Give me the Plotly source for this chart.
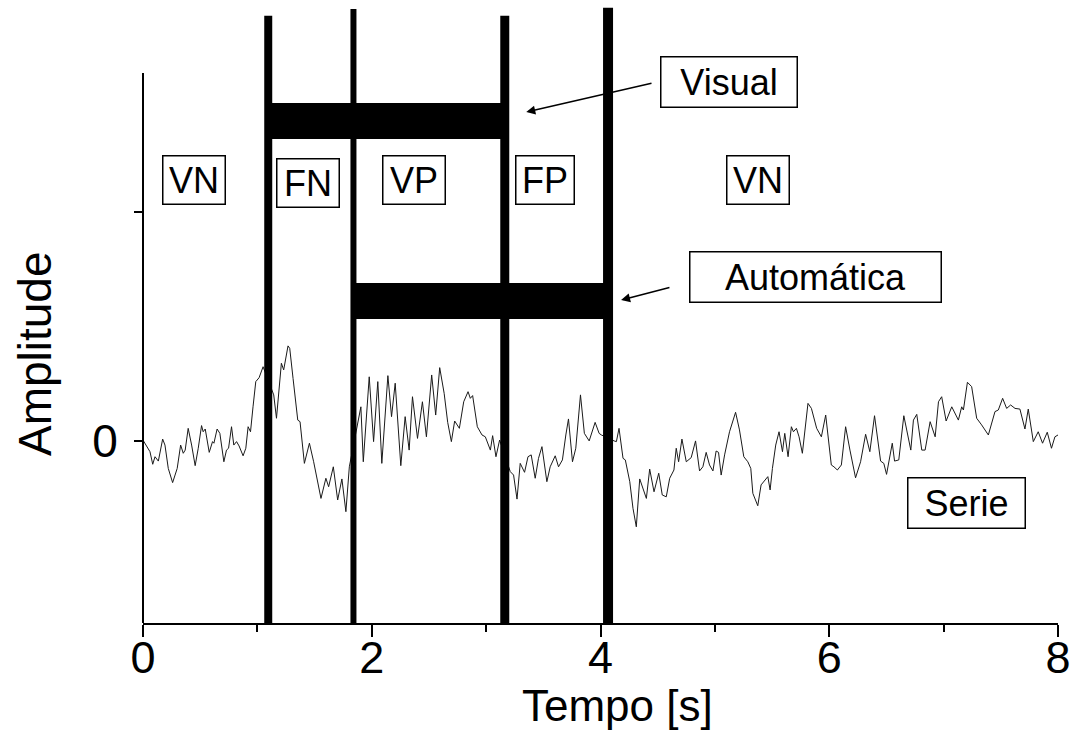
import plotly.graph_objects as go

# ---- data -------------------------------------------------------------
tempo = [0.003, 0.038, 0.061, 0.085, 0.105, 0.134, 0.172, 0.192, 0.221, 0.259,
         0.299, 0.329, 0.352, 0.369, 0.395, 0.425, 0.456, 0.483, 0.512, 0.526,
         0.544, 0.579, 0.608, 0.620, 0.648, 0.672, 0.707, 0.730, 0.748, 0.774,
         0.794, 0.818, 0.840, 0.875, 0.899, 0.919, 0.940, 0.962, 0.986, 1.015,
         1.050, 1.143, 1.167, 1.210, 1.230, 1.268, 1.283, 1.312, 1.353, 1.373,
         1.411, 1.455, 1.492, 1.556, 1.599, 1.623, 1.664, 1.702, 1.739, 1.774,
         1.804, 1.905, 1.926, 1.978, 2.016, 2.053, 2.088, 2.141, 2.173, 2.205,
         2.254, 2.292, 2.327, 2.356, 2.400, 2.443, 2.478, 2.524, 2.559, 2.594,
         2.633, 2.664, 2.696, 2.725, 2.766, 2.804, 2.842, 2.862, 2.882, 2.923,
         2.964, 2.993, 3.037, 3.057, 3.086, 3.118, 3.211, 3.240, 3.270, 3.298,
         3.336, 3.366, 3.394, 3.429, 3.458, 3.488, 3.531, 3.560, 3.604, 3.633,
         3.667, 3.697, 3.720, 3.755, 3.784, 3.825, 3.859, 3.901, 3.953, 3.988,
         4.008, 4.119, 4.139, 4.162, 4.197, 4.217, 4.256, 4.284, 4.313, 4.343,
         4.372, 4.401, 4.430, 4.468, 4.509, 4.540, 4.575, 4.605, 4.642, 4.662,
         4.683, 4.712, 4.750, 4.793, 4.831, 4.866, 4.895, 4.924, 4.953, 4.983,
         5.011, 5.032, 5.055, 5.085, 5.128, 5.181, 5.215, 5.253, 5.288, 5.314,
         5.332, 5.375, 5.404, 5.434, 5.463, 5.483, 5.503, 5.532, 5.561, 5.591,
         5.611, 5.640, 5.669, 5.687, 5.713, 5.736, 5.765, 5.814, 5.844, 5.890,
         5.931, 5.969, 5.989, 6.018, 6.041, 6.071, 6.106, 6.143, 6.181, 6.230,
         6.274, 6.318, 6.355, 6.396, 6.449, 6.477, 6.501, 6.551, 6.571, 6.608,
         6.652, 6.678, 6.713, 6.736, 6.765, 6.809, 6.838, 6.882, 6.926, 6.955,
         6.983, 7.022, 7.071, 7.129, 7.158, 7.173, 7.208, 7.245, 7.289, 7.332,
         7.391, 7.449, 7.478, 7.516, 7.551, 7.586, 7.624, 7.667, 7.711, 7.740,
         7.784, 7.827, 7.865, 7.906, 7.943, 7.973, 8.000]

amplitude = [0.00, -0.31, -0.48, -1.03, -0.70, -0.89, 0.07, -0.19, -1.21, -1.83,
             -1.21, -0.19, -0.55, -0.41, 0.54, -0.19, -1.09, -0.33, 0.66, 0.39,
             0.51, -0.51, -0.04, -0.11, 0.51, 0.32, -0.92, -0.41, -0.33, 0.61,
             -0.19, -0.04, -0.23, -0.66, -0.33, 0.61, 0.39, 1.48, 2.58, 2.75,
             3.23, 2.00, 0.98, 3.38, 3.09, 4.14, 4.03, 2.72, 0.90, 0.83,
             -0.99, -0.11, -0.92, -2.52, -1.64, -2.01, -1.14, -2.59, -1.67, -3.10,
             -1.14, 1.48, -0.92, 2.79, -0.04, 2.58, -0.99, 2.84, 1.05, 2.51,
             -1.09, 1.05, -0.41, 1.92, 0.10, 1.70, 0.17, 2.87, 1.12, 3.19,
             2.07, 0.80, -0.04, 0.86, 0.54, 1.70, 2.14, 1.85, 1.97, 0.61,
             0.25, 0.17, -0.41, 0.22, -0.70, 0.03, -1.35, -1.50, -2.55, -0.99,
             -1.38, -0.70, -0.62, -1.64, -0.77, -0.26, -1.79, -1.14, -0.66, -1.14,
             -0.84, 0.25, 0.95, -0.92, -0.33, 2.00, 0.32, -0.01, 0.80, 0.32,
             0.25, -0.01, -0.04, 0.54, -0.77, -0.84, -1.79, -2.95, -3.76, -1.67,
             -2.08, -2.52, -1.24, -2.23, -1.42, -2.37, -2.45, -1.64, -1.28, -0.33,
             -0.92, 0.07, -0.92, -0.74, -0.01, -1.32, -1.14, -0.51, -1.06, -1.32,
             -0.45, -0.51, -1.50, -0.62, 0.39, 1.24, 0.47, -0.70, -0.92, -1.21,
             -2.30, -2.84, -1.93, -1.72, -1.57, -2.15, -1.21, -0.19, 0.39, -0.48,
             0.32, -0.70, 0.61, 0.39, 0.54, 0.17, -0.55, 1.63, 1.41, 0.54,
             0.17, 1.12, 0.25, -1.06, -1.14, -1.28, -1.06, 0.61, -0.41, -1.62,
             -0.92, 0.28, -0.48, 1.09, -0.89, -0.99, -1.47, -0.11, -0.89, -0.84,
             1.09, 0.47, -0.41, 0.90, 1.15, -0.41, -0.41, 0.83, 0.17, 1.70,
             1.92, 0.86, 1.48, 0.90, 1.48, 1.34, 2.55, 2.36, 0.98, 0.69,
             0.25, 1.27, 1.34, 1.85, 1.41, 1.56, 1.41, 1.38, 0.51, 1.38,
             -0.04, 0.39, -0.11, 0.37, -0.33, 0.17, 0.25]

# detection intervals [start, end] in seconds
visual_interval = [1.095, 3.163]
auto_interval = [1.84, 4.066]

region_labels = ["VN", "FN", "VP", "FP", "VN"]
region_centers = [0.445, 1.444, 2.373, 3.512, 5.375]

x_tick_vals = [0, 2, 4, 6, 8]
x_tick_text = ["0", "2", "4", "6", "8"]
y_tick_vals = [0, 10]
y_tick_text = ["0", ""]

# ---- figure -----------------------------------------------------------
FONT = "Liberation Sans, Arial, sans-serif"
Y_MIN, Y_MAX = -7.96, 18.98

fig = go.Figure()
fig.add_trace(go.Scatter(x=tempo, y=amplitude, mode="lines",
                         line=dict(color="#1a1a1a", width=1),
                         hoverinfo="skip", showlegend=False))

shapes = []
# horizontal detection bars
shapes.append(dict(type="rect", xref="x", yref="y",
                   x0=visual_interval[0], x1=visual_interval[1], y0=13.17, y1=14.75,
                   fillcolor="black", line=dict(width=0)))
shapes.append(dict(type="rect", xref="x", yref="y",
                   x0=auto_interval[0], x1=auto_interval[1], y0=5.31, y1=6.89,
                   fillcolor="black", line=dict(width=0)))
# vertical boundary lines
v_lines = [(visual_interval[0], 18.55, 8), (auto_interval[0], 18.85, 6),
           (visual_interval[1], 18.55, 9), (auto_interval[1], 18.9, 10)]
for xv, top, w in v_lines:
    shapes.append(dict(type="line", xref="x", yref="y", x0=xv, x1=xv,
                       y0=Y_MIN, y1=top, line=dict(color="black", width=w)))
# left axis line (shorter than plot area)
shapes.append(dict(type="line", xref="paper", yref="y", x0=0, x1=0,
                   y0=Y_MIN, y1=16.06, line=dict(color="black", width=2)))

ANN_SIZE = 36
annotations = []
for lab, cx in zip(region_labels, region_centers):
    yy = 11.25 if lab == "FN" else 11.4
    annotations.append(dict(x=cx, y=yy, xref="x", yref="y", text=lab,
                            showarrow=False, font=dict(family=FONT, size=ANN_SIZE, color="black"),
                            bordercolor="black", borderwidth=1.5, borderpad=0,
                            width=61 if lab != "FP" else 57, height=47, bgcolor="white"))
for txt, cx, cy, w in [("Visual", 5.122, 15.66, 135), ("Automática", 5.881, 7.15, 250),
                       ("Serie", 7.199, -2.72, 116)]:
    annotations.append(dict(x=cx, y=cy, xref="x", yref="y", text=txt,
                            showarrow=False, font=dict(family=FONT, size=ANN_SIZE, color="black"),
                            bordercolor="black", borderwidth=1.5, borderpad=0,
                            width=w, height=49, bgcolor="white"))
# arrows
annotations.append(dict(x=3.351, y=14.35, ax=4.459, ay=15.62, xref="x", yref="y",
                        axref="x", ayref="y", text="", showarrow=True,
                        arrowhead=2, arrowsize=1.2, arrowwidth=1.5, arrowcolor="black"))
annotations.append(dict(x=4.180, y=6.14, ax=4.616, ay=6.71, xref="x", yref="y",
                        axref="x", ayref="y", text="", showarrow=True,
                        arrowhead=2, arrowsize=1.2, arrowwidth=1.5, arrowcolor="black"))
# axis titles
annotations.append(dict(x=-0.118, y=0.436, xref="paper", yref="paper", text="Amplitude",
                        xanchor="center", yanchor="middle",
                        showarrow=False, textangle=-90,
                        font=dict(family=FONT, size=46, color="black")))
annotations.append(dict(x=0.519, y=-0.133, xref="paper", yref="paper", text="Tempo [s]",
                        xanchor="center", yanchor="middle",
                        showarrow=False, font=dict(family=FONT, size=44, color="black")))

fig.update_layout(
    width=1077, height=730,
    margin=dict(l=143, r=17, t=6, b=107),
    paper_bgcolor="white", plot_bgcolor="white",
    shapes=shapes, annotations=annotations,
    xaxis=dict(range=[0, 8], tickvals=x_tick_vals, ticktext=x_tick_text,
               ticks="outside", ticklen=12, tickwidth=2, tickcolor="black",
               showline=True, linecolor="black", linewidth=2,
               showgrid=False, zeroline=False, ticklabelstandoff=-18,
               tickfont=dict(family=FONT, size=45, color="black"),
               minor=dict(tickvals=[1, 3, 5, 7], ticks="outside", ticklen=7,
                          tickwidth=2, tickcolor="black", showgrid=False)),
    yaxis=dict(range=[Y_MIN, Y_MAX], tickvals=y_tick_vals, ticktext=y_tick_text,
               ticks="outside", ticklen=8, tickwidth=2, tickcolor="black",
               showline=False, showgrid=False, zeroline=False,
               ticklabelstandoff=7,
               tickfont=dict(family=FONT, size=46, color="black")),
)

fig.write_html("out.html")
